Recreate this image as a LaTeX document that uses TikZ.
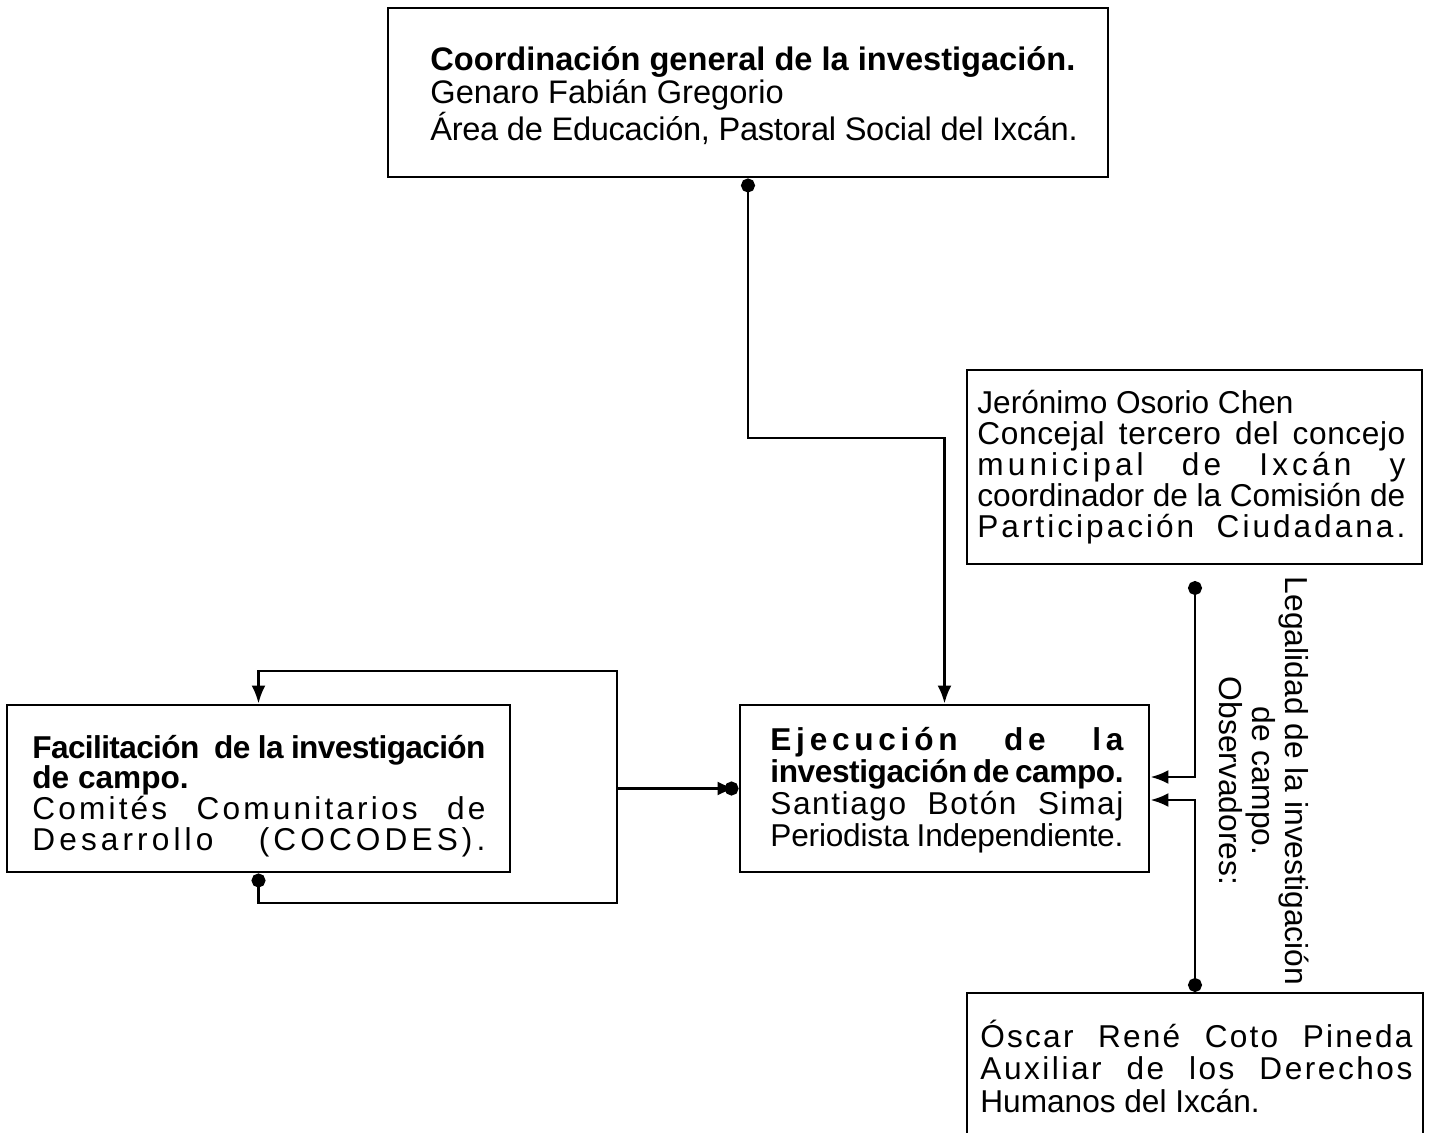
\documentclass[tikz,border=0pt]{standalone}
\usepackage{fontspec}
\setmainfont{Liberation Sans}
\usetikzlibrary{arrows.meta,calc}
\newcommand\lnat[1]{\hbox{#1}}
\newcommand\ljus[4][]{\hbox to #2{#1\addfontfeature{LetterSpace=#3}#4}}
\newcommand\txtblock[2]{\vtop{\baselineskip=#1\relax #2}}
\tikzset{
  box/.style={draw, line width=1.45pt, rectangle, inner sep=0pt},
  txt/.style={anchor=base west, inner sep=0pt, font=\fontsize{15.8pt}{16pt}\selectfont},
  conn/.style={line width=1.35pt},
  dotarrow/.style={{Circle[length=7pt]}-{Latex[length=9pt,width=7pt]}},
}
\begin{document}
\begin{tikzpicture}[x=0.5pt, y=-0.5pt]
\path[use as bounding box] (0,0) rectangle (1429,1132);
\fill[white] (0,0) rectangle (1429,1132);
\clip (0,0) rectangle (1429,1132);

% boxes
\node[box, minimum width=360pt, minimum height=84.5pt] (top) at (748,92.5) {};
\node[box, minimum width=227.5pt, minimum height=97pt] (jer) at (1194.5,467) {};
\node[box, minimum width=251.5pt, minimum height=83.5pt] (fac) at (258.5,788.5) {};
\node[box, minimum width=204.5pt, minimum height=83.5pt] (eje) at (944.5,788.5) {};
\node[box, minimum width=228pt, minimum height=103.5pt] (osc) at (1195,1096.5) {};

% texts
\node[txt, font=\fontsize{16.3pt}{16.5pt}\selectfont] (toptxt) at (430,70) {\txtblock{16.75pt}{%
  \lnat{\bfseries Coordinación general de la investigación.}%
  \lnat{Genaro Fabián Gregorio}%
  \lnat{\addfontfeature{LetterSpace=-1}Área de Educación, Pastoral Social del Ixcán.}}};

\node[txt] (jertxt) at (977,413) {\txtblock{15.5pt}{%
  \lnat{Jerónimo Osorio Chen}%
  \ljus{214pt}{2}{Concejal tercero del concejo}%
  \ljus{214pt}{13}{municipal de Ixcán y}%
  \ljus{214pt}{0}{coordinador de la Comisión de}%
  \ljus{214pt}{9.5}{Participación Ciudadana.}}};

\node[txt] (factxt) at (32,758) {\txtblock{15.4pt}{%
  \ljus[\bfseries]{226.5pt}{-2}{Facilitación\ \ de la investigación}%
  \lnat{\bfseries de campo.}%
  \ljus{226.5pt}{10}{Comités Comunitarios de}%
  \ljus{226.5pt}{13}{Desarrollo (COCODES).}}};

\node[txt] (ejetxt) at (770,750) {\txtblock{16pt}{%
  \ljus[\bfseries]{176.5pt}{15}{Ejecución de la}%
  \ljus[\bfseries]{176.5pt}{-1.3}{investigación de campo.}%
  \ljus{176.5pt}{5}{Santiago Botón Simaj}%
  \ljus{176.5pt}{-0.6}{Periodista Independiente.}}};

\node[txt] (osctxt) at (980,1047) {\txtblock{16.25pt}{%
  \ljus{216pt}{7}{Óscar René Coto Pineda}%
  \ljus{216pt}{8}{Auxiliar de los Derechos}%
  \lnat{Humanos del Ixcán.}}};

\node[rotate=-90, align=center, inner sep=0pt, font=\fontsize{15.9pt}{16.5pt}\selectfont] (leg) at (1264,781)
  {Legalidad de la investigación\\de campo.\\Observadores:};

% connectors
\coordinate (jdot) at (1195,581);
\coordinate (odot) at (1195,992);
\coordinate (junc) at (617,788.5);

\draw[conn, dotarrow] (top.south) -- (748,438) -| (eje.north);
\draw[conn, dotarrow] (jdot) |- ($(eje.east)+(0,-11.5)$);
\draw[conn, dotarrow] (odot) |- ($(eje.east)+(0,11.5)$);
\draw[conn, dotarrow] (fac.south) |- (617,903) -- (617,671) -| (fac.north);
\draw[conn, -{Latex[length=9pt,width=7pt,sep=-5.5pt] Circle[length=7pt]}] (junc) -- (eje.west);
\end{tikzpicture}
\end{document}
